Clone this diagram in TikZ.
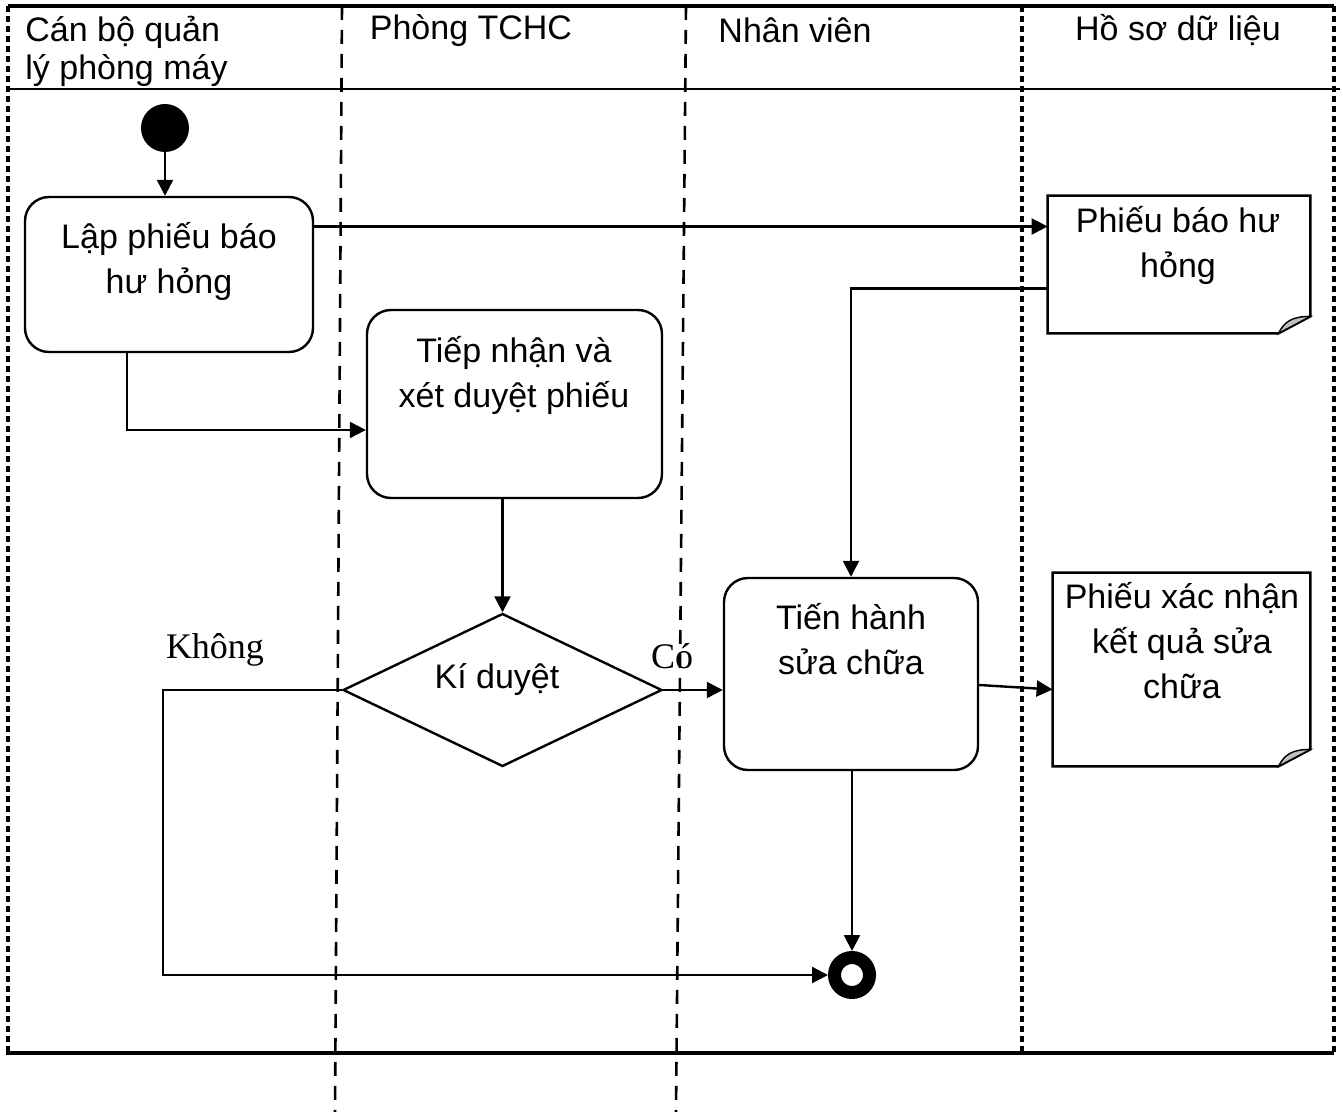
\documentclass[tikz,border=0pt]{standalone}
\usepackage{fontspec}
\setmainfont{Liberation Sans}
\newfontfamily\timesvn{Liberation Serif}
\usetikzlibrary{shapes.geometric,arrows.meta,positioning}

% outline of a document with a curled corner
\newcommand{\docfold}[1]{%
  \draw[line width=1.2pt] (#1.north west) -- (#1.north east) -- ([yshift=8.5pt]#1.south east)
    -- ([xshift=-16pt]#1.south east) -- (#1.south west) -- cycle;
  \filldraw[fill=black!25, line width=0.7pt] ([xshift=-16pt]#1.south east)
    .. controls +(3pt,6pt) and +(-9pt,0pt) .. ([yshift=8.5pt]#1.south east) -- cycle;
}

\begin{document}
\begin{tikzpicture}[
    x=0.5pt, y=-0.5pt,
    font=\fontsize{17}{22.5}\selectfont,
    actbox/.style={rectangle, draw, line width=1.2pt, rounded corners=12pt, inner sep=0pt},
    doc/.style={rectangle, inner sep=0pt},
    txt/.style={align=center, inner sep=0pt},
    lbl/.style={inner sep=0pt, font=\timesvn\fontsize{18}{20}\selectfont},
    arrow/.style={line width=1.2pt, -{Triangle[length=8pt, width=8pt]}},
    lane/.style={line width=1.3pt, dash pattern=on 7pt off 5pt},
    border/.style={line width=1.6pt, dash pattern=on 3pt off 2pt}
]
\useasboundingbox (0,0) rectangle (1343,1112);

% Swimlane frame
\draw[line width=1.6pt] (8,6) -- (1334,6);
\draw[line width=1.1pt] (8,89) -- (1340,89);
\draw[line width=2pt] (6,1053) -- (1334,1053);
\draw[border] (8,6) -- (8,1053);
\draw[border] (1022,6) -- (1022,1053);
\draw[border] (1334,6) -- (1334,1053);
\draw[lane] (342,6) -- (335,1112);
\draw[lane] (686,6) -- (676,1112);

% Lane titles
\node[txt, align=left, anchor=west, font=\fontsize{17}{19}\selectfont] (lane1) at (25,51) {Cán bộ quản\\lý phòng máy};
\node[txt] (lane2) at (471,31) {Phòng TCHC};
\node[txt] (lane3) at (795,30) {Nhân viên};
\node[txt] (lane4) at (1178,30) {Hồ sơ dữ liệu};

% Start / end
\node[circle, fill, minimum size=24pt, inner sep=0pt] (start) at (165,128) {};
\node[circle, draw, fill=white, line width=6.5pt, outer sep=3.25pt, minimum size=17.5pt, inner sep=0pt] (ket) at (852,975) {};

% Activities
\node[actbox, minimum width=144pt, minimum height=77.5pt] (lap) at (169,274.5) {};
\node[txt] (lapText) at (169,261.5) {Lập phiếu báo\\hư hỏng};

\node[actbox, minimum width=147.5pt, minimum height=94pt] (duyet) at (514.5,404) {};
\node[txt] (duyetText) at (514,375.5) {Tiếp nhận và\\xét duyệt phiếu};

\node[diamond, draw, line width=1.2pt, aspect=2, minimum width=159.5pt, minimum height=76.5pt, inner sep=0pt] (ki) at (502.5,690) {};
\node[txt] (kiText) at (497,680) {Kí duyệt};

\node[actbox, minimum width=127pt, minimum height=96pt] (sua) at (851,674) {};
\node[txt] (suaText) at (851,639.5) {Tiến hành\\sửa chữa};

% Documents
\node[doc, minimum width=131pt, minimum height=68.5pt] (phieu) at (1179,264.5) {};
\docfold{phieu}
\node[txt] (phieuText) at (1178,245.5) {Phiếu báo hư\\hỏng};

\node[doc, minimum width=128.5pt, minimum height=96.5pt] (xacnhan) at (1181.5,669.5) {};
\docfold{xacnhan}
\node[txt] (xacnhanText) at (1182,641) {Phiếu xác nhận\\kết quả sửa\\chữa};

% Guard labels
\node[lbl] (khong) at (215,650) {Không};
\node[lbl] (co) at (672,656) {Có};

% Flows
\coordinate (vong) at (163,0);
\draw[arrow] (start.south) -- (start.south |- lap.north);
\draw[arrow] ([yshift=24pt]lap.east) -- ([yshift=24pt]lap.east -| phieu.west);
\draw[arrow] ([xshift=-21pt]lap.south) |- ([yshift=-13pt]duyet.west);
\draw[arrow] ([yshift=-12pt]phieu.west) -| (sua.north);
\draw[arrow] (ki.north |- duyet.south) -- (ki.north);
\draw[arrow] (ki.east) -- (ki.east -| sua.west);
\draw[arrow] (ki.west) -| (vong |- ket.west) -- (ket.west);
\draw[arrow] (sua.south -| ket.north) -- (ket.north);
\draw[arrow] ([yshift=-5.5pt]sua.east) -- ([yshift=-10pt]xacnhan.west);

\end{tikzpicture}
\end{document}
